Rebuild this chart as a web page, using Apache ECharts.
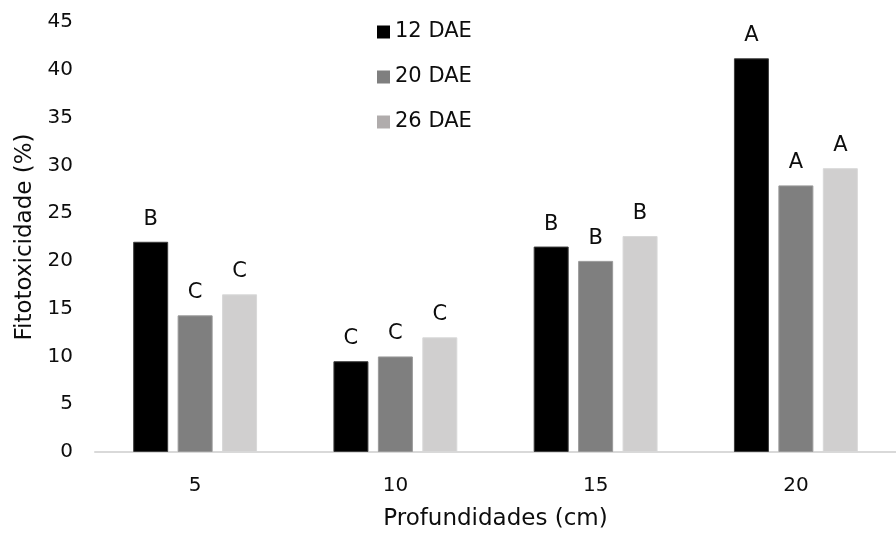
<!DOCTYPE html>
<html>
<head>
<meta charset="utf-8">
<script src="https://cdn.jsdelivr.net/npm/echarts@6/dist/echarts.min.js"></script>
<style>
  html, body { margin: 0; padding: 0; background: #fff; }
  #chart { width: 896px; height: 536px; }
</style>
</head>
<body>
<div id="chart"></div>
<script>
// Depth categories (cm)
const categories = ['5', '10', '15', '20'];

// Phytotoxicity (%) per evaluation date
const dae12 = [22.0, 9.5, 21.5, 41.2];
const dae20 = [14.3, 10.0, 20.0, 27.9];
const dae26 = [16.5, 12.0, 22.6, 29.7];

// Mean-comparison letters shown above each bar
const letters12 = ['B', 'C', 'B', 'A'];
const letters20 = ['C', 'C', 'B', 'A'];
const letters26 = ['C', 'C', 'B', 'A'];

const seriesNames = ['12 DAE', '20 DAE', '26 DAE'];

const FONT = '"DejaVu Sans", "Liberation Sans", Arial, sans-serif';
const TEXT = '#0d0d0d';

function barSeries(name, values, letters, color, border) {
  return {
    name: name,
    type: 'bar',
    data: values,
    barWidth: 35,
    barGap: '27%',
    itemStyle: { color: color, borderColor: border, borderWidth: 1 },
    label: {
      show: true,
      position: 'top',
      distance: 12,
      fontFamily: FONT,
      fontSize: 21,
      color: TEXT,
      formatter: p => letters[p.dataIndex]
    }
  };
}

const chart = echarts.init(document.getElementById('chart'), null, { renderer: 'canvas' });

chart.setOption({
  backgroundColor: '#fff',
  animation: false,
  textStyle: { fontFamily: FONT },
  grid: { left: 95, right: -10, top: 22, bottom: 82, containLabel: false },
  legend: {
    orient: 'vertical',
    left: 377,
    top: 21,
    padding: 0,
    itemWidth: 13,
    itemHeight: 13,
    itemGap: 23,
    icon: 'rect',
    textStyle: { fontFamily: FONT, fontSize: 21, lineHeight: 22, color: TEXT },
    data: [
      { name: seriesNames[0], itemStyle: { color: '#000000', borderWidth: 0 } },
      { name: seriesNames[1], itemStyle: { color: '#7f7f7f', borderWidth: 0 } },
      { name: seriesNames[2], itemStyle: { color: '#b0acac', borderWidth: 0 } }
    ]
  },
  xAxis: {
    type: 'category',
    data: categories,
    name: 'Profundidades (cm)',
    nameLocation: 'middle',
    nameGap: 56,
    nameTextStyle: { fontFamily: FONT, fontSize: 23, color: TEXT },
    axisLine: { show: true, lineStyle: { color: '#d9d9d9', width: 2 } },
    axisTick: { show: false },
    axisLabel: { fontFamily: FONT, fontSize: 20, color: TEXT, margin: 24 }
  },
  yAxis: {
    type: 'value',
    min: 0,
    max: 45,
    interval: 5,
    name: 'Fitotoxicidade (%)',
    nameLocation: 'middle',
    nameGap: 58,
    nameTextStyle: { fontFamily: FONT, fontSize: 23, color: TEXT },
    axisLine: { show: false },
    axisTick: { show: false },
    splitLine: { show: false },
    axisLabel: { fontFamily: FONT, fontSize: 20, color: TEXT, margin: 22 }
  },
  series: [
    barSeries(seriesNames[0], dae12, letters12, '#000000', '#3c3c3c'),
    barSeries(seriesNames[1], dae20, letters20, '#7f7f7f', '#9a9a9a'),
    barSeries(seriesNames[2], dae26, letters26, '#d0cfcf', '#d8d8d8')
  ]
});
</script>
</body>
</html>
